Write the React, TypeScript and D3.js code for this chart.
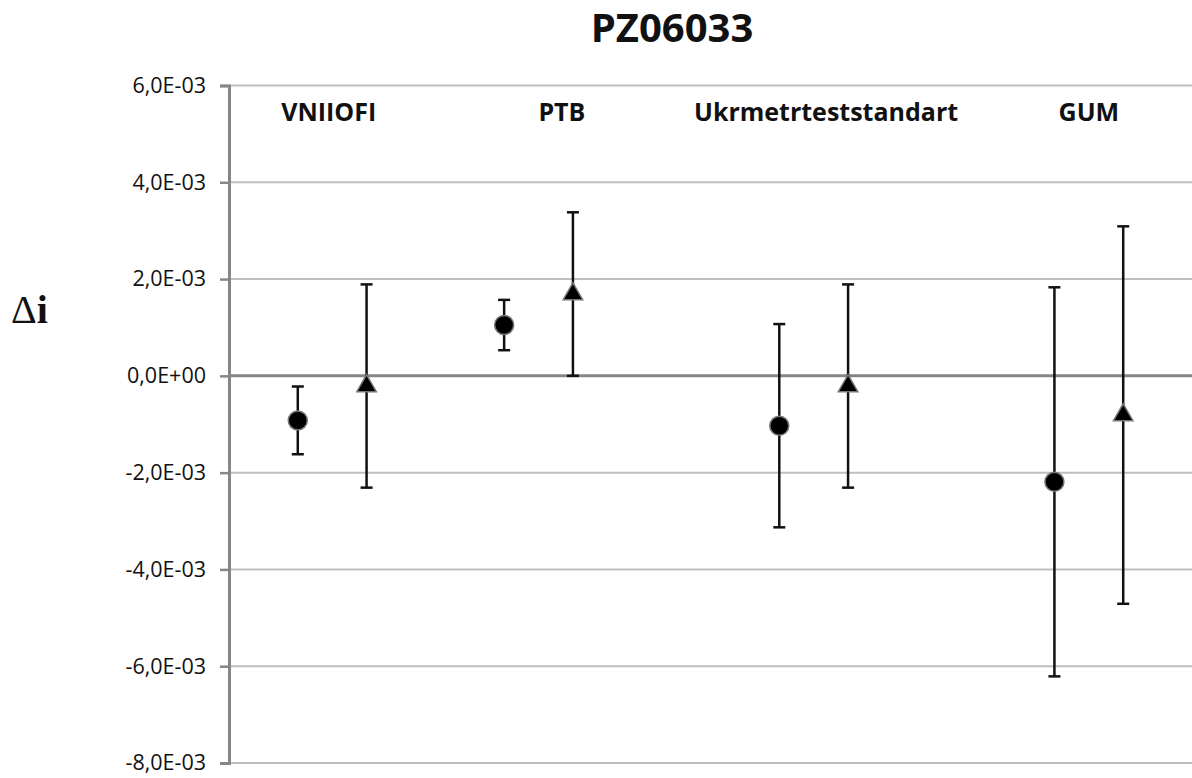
import React, { useRef, useEffect } from 'react'
import * as d3 from 'd3'

// category labels and where they sit (in x units of the scatter)
const categories = ['VNIIOFI', 'PTB', 'Ukrmetrteststandart', 'GUM']
const categoryX = [1.45, 4.84, 8.68, 12.5]

// circle series
const circleX = [1, 4, 8, 12]
const circleY = [-0.92e-3, 1.05e-3, -1.03e-3, -2.19e-3]
const circleErr = [0.7e-3, 0.52e-3, 2.1e-3, 4.02e-3]

// triangle series
const triX = [2, 5, 9, 13]
const triY = [-0.21e-3, 1.69e-3, -0.21e-3, -0.81e-3]
const triErr = [2.1e-3, 1.69e-3, 2.1e-3, 3.9e-3]

const yTicks = [6e-3, 4e-3, 2e-3, 0, -2e-3, -4e-3, -6e-3, -8e-3]

const fmt = (v: number) => {
  if (v === 0) return '0,0E+00'
  const e = Math.floor(Math.log10(Math.abs(v)) + 1e-9)
  const m = v / Math.pow(10, e)
  const es = (e < 0 ? '-' : '+') + String(Math.abs(e)).padStart(2, '0')
  return m.toFixed(1).replace('.', ',') + 'E' + es
}

const App = () => {
  const svgRef = useRef<SVGSVGElement>(null)

  useEffect(() => {
    document.body.style.margin = '0'
    const w = 1192
    const h = 778
    const svg = d3.select(svgRef.current).attr('width', w).attr('height', h)
    svg.selectAll('*').remove()

    const x = d3.scaleLinear().domain([0, 14]).range([229, 1192])
    const y = d3.scaleLinear().domain([-8e-3, 6e-3]).range([763, 85.5])
    const font = "'Open Sans', sans-serif"

    // gridlines
    svg.append('g')
      .selectAll('line')
      .data(yTicks.filter(d => d !== 0))
      .join('line')
      .attr('x1', x(0)).attr('x2', w)
      .attr('y1', d => y(d)).attr('y2', d => y(d))
      .attr('stroke', '#bfbfbf').attr('stroke-width', 2)

    // y axis
    const yAxis = d3.axisLeft(y).tickValues(yTicks).tickSize(9).tickFormat(d => fmt(+d))
    const ga = svg.append('g').attr('transform', `translate(${x(0)},0)`).call(yAxis)
    ga.attr('font-size', null).attr('font-family', null)
    ga.select('.domain').attr('stroke', '#868686').attr('stroke-width', 3)
    ga.selectAll('.tick line').attr('stroke', '#868686').attr('stroke-width', 2.5)
    ga.selectAll('.tick text')
      .attr('x', -23)
      .style('font-family', font).style('font-size', '21.5px').attr('fill', '#111')

    // zero line
    svg.append('line')
      .attr('x1', x(0)).attr('x2', w)
      .attr('y1', y(0)).attr('y2', y(0))
      .attr('stroke', '#868686').attr('stroke-width', 3)

    const errBars = (xs: number[], ys: number[], es: number[]) => {
      const g = svg.append('g').attr('stroke', '#111').attr('stroke-width', 2.5)
      xs.forEach((xv, i) => {
        const cx = x(xv)
        const top = y(ys[i] + es[i])
        const bot = y(ys[i] - es[i])
        g.append('line').attr('x1', cx).attr('x2', cx).attr('y1', top).attr('y2', bot)
        g.append('line').attr('x1', cx - 6).attr('x2', cx + 6).attr('y1', top).attr('y2', top)
        g.append('line').attr('x1', cx - 6).attr('x2', cx + 6).attr('y1', bot).attr('y2', bot)
      })
    }
    errBars(circleX, circleY, circleErr)
    errBars(triX, triY, triErr)

    svg.append('g')
      .selectAll('circle')
      .data(circleX)
      .join('circle')
      .attr('cx', d => x(d))
      .attr('cy', (d, i) => y(circleY[i]))
      .attr('r', 9.5)
      .attr('fill', '#000')
      .attr('stroke', '#777').attr('stroke-width', 1.5)

    const tri = d3.symbol().type(d3.symbolTriangle).size(165)
    svg.append('g')
      .selectAll('path')
      .data(triX)
      .join('path')
      .attr('d', tri)
      .attr('transform', (d, i) => `translate(${x(d)},${y(triY[i])})`)
      .attr('fill', '#000')
      .attr('stroke', '#777').attr('stroke-width', 1.5)

    // category labels
    svg.append('g')
      .selectAll('text')
      .data(categories)
      .join('text')
      .attr('x', (d, i) => x(categoryX[i]))
      .attr('y', 120.5)
      .attr('text-anchor', 'middle')
      .attr('font-family', font).attr('font-weight', 'bold').attr('font-size', 25)
      .attr('fill', '#111')
      .text(d => d)

    svg.append('text')
      .attr('x', 672).attr('y', 41.5)
      .attr('text-anchor', 'middle')
      .attr('font-family', font).attr('font-weight', 'bold').attr('font-size', 40)
      .attr('fill', '#111')
      .text('PZ06033')

    const ax = svg.append('text')
      .attr('x', 11).attr('y', 323)
      .attr('font-family', "'Liberation Serif', serif").attr('font-size', 40)
      .attr('fill', '#111')
    ax.append('tspan').text('Δ')
    ax.append('tspan').attr('font-weight', 'bold').text('i')
  }, [])

  return (
    <div style={{ position: 'absolute', left: 0, top: 0 }}>
      <svg ref={svgRef}></svg>
    </div>
  )
}

export default App
